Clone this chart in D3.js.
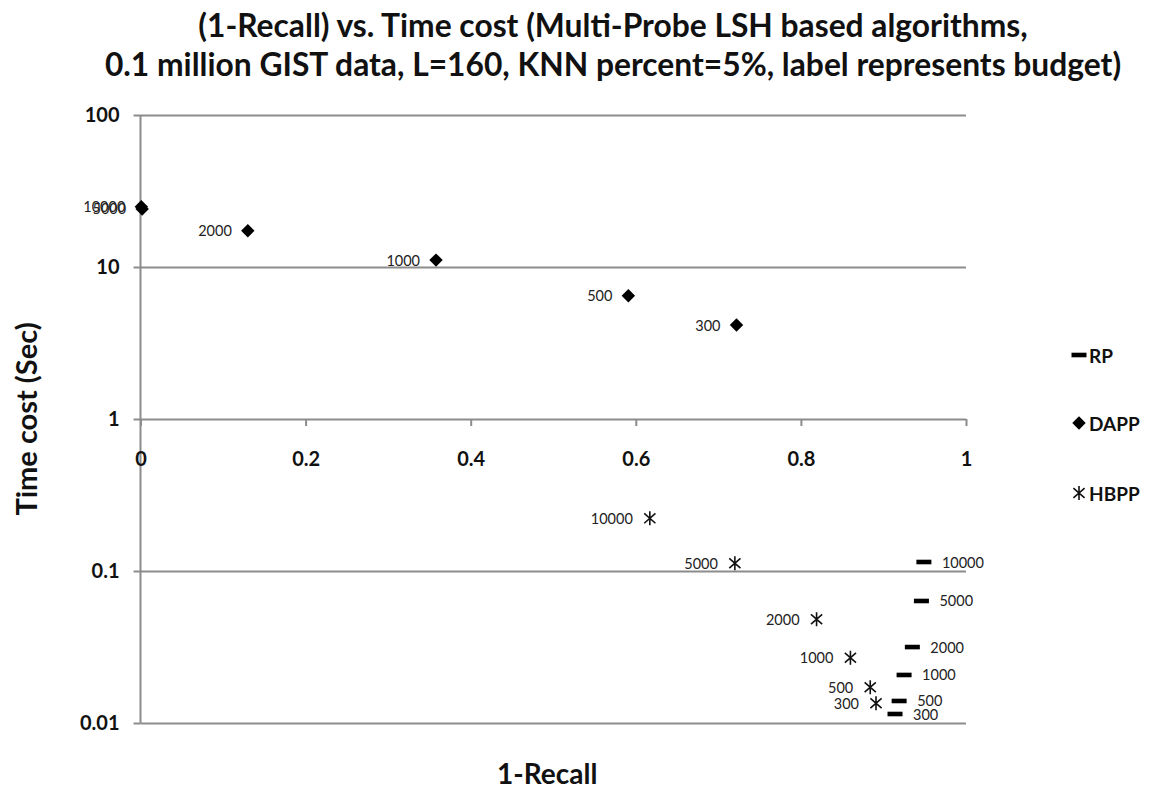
<!DOCTYPE html>
<html>
<head>
<meta charset="utf-8">
<script src="https://cdn.jsdelivr.net/npm/d3@7"></script>
<style>
  html, body { margin: 0; padding: 0; background: #fff; }
  svg { display: block; }
  text { font-family: Lato, "Open Sans", "DejaVu Sans", sans-serif; }
</style>
</head>
<body>
<svg id="chart" width="1155" height="794"></svg>
<script>
// Multi-Probe LSH variants: x = 1-Recall, y = time cost (sec), label = probing budget
const rpRecallLoss   = [0.949, 0.946, 0.935, 0.925, 0.919, 0.914];
const rpTime         = [0.1146, 0.0635, 0.0316, 0.0207, 0.01396, 0.01146];
const rpBudget       = ["10000", "5000", "2000", "1000", "500", "300"];

const dappRecallLoss = [0.001, 0.002, 0.130, 0.358, 0.591, 0.722];
const dappTime       = [24.9, 24.1, 17.3, 11.1, 6.47, 4.15];
const dappBudget     = ["10000", "5000", "2000", "1000", "500", "300"];

const hbppRecallLoss = [0.617, 0.720, 0.819, 0.860, 0.884, 0.891];
const hbppTime       = [0.222, 0.1125, 0.0481, 0.0269, 0.0172, 0.0135];
const hbppBudget     = ["10000", "5000", "2000", "1000", "500", "300"];

const seriesNames = ["RP", "DAPP", "HBPP"];
const xTicks = [0, 0.2, 0.4, 0.6, 0.8, 1];
const yTicks = [0.01, 0.1, 1, 10, 100];
const titleLines = [
  "(1-Recall) vs. Time cost (Multi-Probe LSH based algorithms,",
  "0.1 million GIST data, L=160, KNN percent=5%, label represents budget)"
];

const svg = d3.select("#chart");
const gridColor = "#8c8c8c";

const x = d3.scaleLinear().domain([0, 1]).range([140.5, 966]);
const y = d3.scaleLog().domain([0.01, 100]).range([723, 115]);

// horizontal gridlines (the y=1 line doubles as the x axis)
svg.append("g")
  .attr("transform", `translate(${x(0)},0)`)
  .call(d3.axisLeft(y).tickValues(yTicks).tickSize(7).tickPadding(14)
          .tickFormat(d => d3.format("~g")(d)))
  .call(g => g.select(".domain").remove())
  .call(g => g.selectAll(".tick line").attr("stroke", gridColor).attr("stroke-width", 2))
  .call(g => g.selectAll(".tick").append("line")
      .attr("x1", 0).attr("x2", x(1) - x(0))
      .attr("stroke", gridColor).attr("stroke-width", 2))
  .call(g => g.selectAll(".tick text")
      .attr("font-family", "Lato, sans-serif")
      .attr("font-size", 20).attr("font-weight", "bold").attr("fill", "#111"));

// vertical axis line
svg.append("line")
  .attr("x1", x(0)).attr("x2", x(0))
  .attr("y1", y(100)).attr("y2", y(0.01))
  .attr("stroke", gridColor).attr("stroke-width", 2);

// x axis crossing at y = 1
svg.append("g")
  .attr("transform", `translate(0,${y(1)})`)
  .call(d3.axisBottom(x).tickValues(xTicks).tickSize(7).tickPadding(26)
          .tickFormat(d => d3.format("~g")(d)))
  .call(g => g.select(".domain").remove())
  .call(g => g.selectAll(".tick line").attr("stroke", gridColor).attr("stroke-width", 2))
  .call(g => g.selectAll(".tick text")
      .attr("font-family", "Lato, sans-serif")
      .attr("font-size", 20).attr("font-weight", "bold").attr("fill", "#111"));

// marker shapes
const diamond = d3.symbol().type(d3.symbolSquare).size(90)();
function drawAsterisk(g, cx, cy, r) {
  const p = d3.path();
  p.moveTo(cx, cy - r); p.lineTo(cx, cy + r);
  p.moveTo(cx - r * 0.8, cy - r * 0.7); p.lineTo(cx + r * 0.8, cy + r * 0.7);
  p.moveTo(cx - r * 0.8, cy + r * 0.7); p.lineTo(cx + r * 0.8, cy - r * 0.7);
  g.append("path").attr("d", p.toString())
    .attr("stroke", "#111").attr("stroke-width", 1.6).attr("fill", "none");
}
function drawDash(g, cx, cy) {
  g.append("rect").attr("x", cx - 7.5).attr("y", cy - 2.3)
    .attr("width", 15).attr("height", 4.6).attr("fill", "#000");
}
function drawDiamond(g, cx, cy) {
  g.append("path").attr("d", diamond)
    .attr("transform", `translate(${cx},${cy}) rotate(45)`)
    .attr("fill", "#000");
}

const labelStyle = sel => sel
  .attr("font-family", "Lato, sans-serif")
  .attr("font-size", 14.5).attr("fill", "#222")
  .attr("dominant-baseline", "central");

// DAPP
const gD = svg.append("g");
dappRecallLoss.forEach((v, i) => {
  const cx = x(v), cy = y(dappTime[i]);
  gD.append("text").attr("x", cx - 16).attr("y", cy).attr("text-anchor", "end")
    .text(dappBudget[i]).call(labelStyle);
  drawDiamond(gD, cx, cy);
});

// HBPP
const gH = svg.append("g");
hbppRecallLoss.forEach((v, i) => {
  const cx = x(v), cy = y(hbppTime[i]);
  gH.append("text").attr("x", cx - 17).attr("y", cy).attr("text-anchor", "end")
    .text(hbppBudget[i]).call(labelStyle);
  drawAsterisk(gH, cx, cy, 7);
});

// RP
const gR = svg.append("g");
rpRecallLoss.forEach((v, i) => {
  const cx = x(v), cy = y(rpTime[i]);
  gR.append("text").attr("x", cx + 18).attr("y", cy).attr("text-anchor", "start")
    .text(rpBudget[i]).call(labelStyle);
  drawDash(gR, cx, cy);
});

// legend
const legendY = [355, 423, 493];
const lg = svg.append("g");
seriesNames.forEach((name, i) => {
  const cy = legendY[i], cx = 1079;
  if (name === "RP") drawDash(lg, cx, cy);
  else if (name === "DAPP") drawDiamond(lg, cx, cy);
  else drawAsterisk(lg, cx, cy, 7);
  lg.append("text").attr("x", 1089).attr("y", cy)
    .attr("font-family", "Lato, sans-serif").attr("font-size", 19)
    .attr("font-weight", "bold").attr("fill", "#111")
    .attr("dominant-baseline", "central").text(name);
});

// title, sized so the longer line spans its full width
const titleG = svg.append("g");
const tl = titleLines.map((t, i) => titleG.append("text")
  .attr("x", 613).attr("y", [37, 76][i])
  .attr("text-anchor", "middle")
  .attr("font-family", "Lato, sans-serif")
  .attr("font-weight", "bold").attr("font-size", 26).attr("fill", "#111")
  .text(t));
const w2 = tl[1].node().getComputedTextLength();
const fs = 26 * 1017 / w2;
tl.forEach(t => t.attr("font-size", fs));

// axis titles
svg.append("text")
  .attr("transform", `translate(37,${(y(100) + y(0.01)) / 2}) rotate(-90)`)
  .attr("text-anchor", "middle")
  .attr("font-family", "Lato, sans-serif")
  .attr("font-weight", "bold").attr("font-size", 29).attr("fill", "#111")
  .text("Time cost (Sec)");

svg.append("text")
  .attr("x", (x(0) + x(1)) / 2 - 6).attr("y", 784)
  .attr("text-anchor", "middle")
  .attr("font-family", "Lato, sans-serif")
  .attr("font-weight", "bold").attr("font-size", 28).attr("fill", "#111")
  .text("1-Recall");
</script>
</body>
</html>
